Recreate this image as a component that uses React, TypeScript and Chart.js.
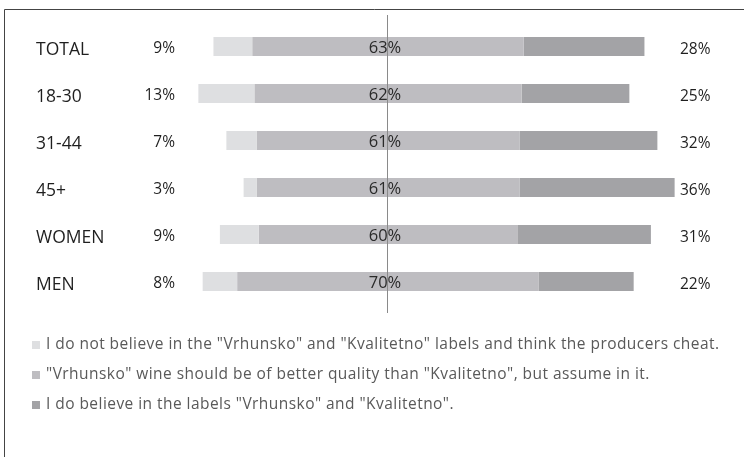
import React, { useEffect, useRef } from "react";
import { Chart, registerables } from "chart.js";

Chart.register(...registerables);

const categories = ["TOTAL", "18-30", "31-44", "45+", "WOMEN", "MEN"];
const disbelieve = [9, 13, 7, 3, 9, 8];
const quality = [63, 62, 61, 61, 60, 70];
const believe = [28, 25, 32, 36, 31, 22];

const seriesNames = [
  'I do not believe in the "Vrhunsko" and "Kvalitetno" labels and think the producers cheat.',
  '"Vrhunsko" wine should be of better quality than "Kvalitetno", but assume in it.',
  'I do believe in the labels "Vrhunsko" and "Kvalitetno".',
];
const colors = ["#DEDFE1", "#BEBDC1", "#A3A3A6"];

const FONT = '"Open Sans", sans-serif';

export default function App() {
  const ref = useRef<HTMLCanvasElement | null>(null);

  useEffect(() => {
    const canvas = ref.current;
    if (!canvas) return;

    const lightRange = categories.map((_, i) => [
      -(disbelieve[i] + quality[i] / 2),
      -quality[i] / 2,
    ]);
    const midRange = categories.map((_, i) => [-quality[i] / 2, quality[i] / 2]);
    const darkRange = categories.map((_, i) => [
      quality[i] / 2,
      quality[i] / 2 + believe[i],
    ]);

    const labelPlugin = {
      id: "labels",
      afterDraw(chart: any) {
        const ctx = chart.ctx;
        const xs = chart.scales.x;
        const ys = chart.scales.y;
        ctx.save();
        // frame
        ctx.strokeStyle = "#444444";
        ctx.lineWidth = 1;
        ctx.beginPath();
        ctx.moveTo(4.5, 457);
        ctx.lineTo(4.5, 9.5);
        ctx.lineTo(744, 9.5);
        ctx.stroke();

        // center line
        const cx = Math.round(xs.getPixelForValue(0)) - 0.5;
        ctx.strokeStyle = "#8a8a8a";
        ctx.beginPath();
        ctx.moveTo(cx, 15);
        ctx.lineTo(cx, 313);
        ctx.stroke();

        categories.forEach((c, i) => {
          const y = ys.getPixelForValue(i);
          ctx.textBaseline = "middle";
          ctx.fillStyle = "#1f1f1f";
          ctx.font = `17.5px ${FONT}`;
          ctx.textAlign = "left";
          ctx.fillText(c, 36, y + 3.5);

          ctx.font = `15.5px ${FONT}`;
          ctx.textAlign = "right";
          ctx.fillText(disbelieve[i] + "%", 175, y + 2);

          ctx.textAlign = "left";
          ctx.fillText(believe[i] + "%", 680, y + 3);

          ctx.font = `16.5px ${FONT}`;
          ctx.textAlign = "center";
          ctx.fillStyle = "#2a2a2a";
          ctx.fillText(quality[i] + "%", xs.getPixelForValue(0) - 3, y + 1.5);
        });

        // legend
        ctx.font = `15.5px ${FONT}`;
        (ctx as any).letterSpacing = "0.45px";
        ctx.textAlign = "left";
        ctx.textBaseline = "middle";
        seriesNames.forEach((n, i) => {
          const y = 345 + i * 30;
          ctx.fillStyle = colors[i];
          ctx.fillRect(32, y - 4, 8, 8);
          ctx.fillStyle = "#595959";
          ctx.fillText(n, 46, y);
        });
        (ctx as any).letterSpacing = "0px";
        ctx.restore();
      },
    };

    const chart = new Chart(canvas, {
      type: "bar",
      data: {
        labels: categories,
        datasets: [
          { label: seriesNames[0], data: lightRange as any, backgroundColor: colors[0] },
          { label: seriesNames[1], data: midRange as any, backgroundColor: colors[1] },
          { label: seriesNames[2], data: darkRange as any, backgroundColor: colors[2] },
        ],
      },
      options: {
        indexAxis: "y",
        responsive: false,
        animation: false,
        devicePixelRatio: 1,
        layout: { padding: { left: 129.4, right: 54.3, top: 23, bottom: 152 } },
        datasets: {
          bar: {
            grouped: false,
            categoryPercentage: 1,
            barPercentage: 19 / 47,
            borderWidth: 0,
          },
        },
        scales: {
          x: { display: false, min: -60, max: 70 },
          y: { display: false, offset: true },
        },
        plugins: {
          legend: { display: false },
          tooltip: { enabled: false },
        },
      },
      plugins: [labelPlugin],
    });

    return () => chart.destroy();
  }, []);

  return (
    <div style={{ position: "absolute", left: 0, top: 0, width: 744, height: 457, background: "#fff" }}>
      <canvas ref={ref} width={744} height={457} style={{ display: "block" }} />
    </div>
  );
}
